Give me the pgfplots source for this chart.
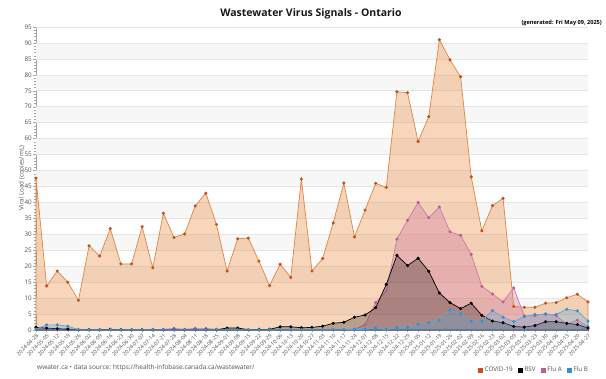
\documentclass[border=0pt]{standalone}
\usepackage{fontspec}
\setmainfont{Open Sans}
\usepackage{pgfplots}
\pgfplotsset{compat=1.18}
\definecolor{covidl}{HTML}{E3833F}
\definecolor{covidm}{HTML}{C4521B}
\definecolor{covidf}{HTML}{E8893C}
\definecolor{flual}{HTML}{C97AAA}
\definecolor{fluam}{HTML}{BD5C96}
\definecolor{fluaf}{HTML}{C8649A}
\definecolor{flubl}{HTML}{58A9DA}
\definecolor{flubm}{HTML}{3C8FC4}
\definecolor{flubf}{HTML}{50A0DC}
\definecolor{bandgray}{HTML}{F7F7F7}
\definecolor{gridc}{HTML}{E6E6E6}
\definecolor{txtc}{HTML}{505050}
\begin{document}
\begin{tikzpicture}
\useasboundingbox (-36pt,-49pt) rectangle (570pt,330pt);
\begin{axis}[
  anchor=south west, scale only axis,
  width=552pt, height=303pt,
  xmin=0, xmax=52, ymin=0, ymax=95,
  axis x line*=bottom, axis y line*=left,
  axis line style={color=gray!70, line width=0.5pt},
  xtick={0,...,52},
  xticklabels={2024-04-28,2024-05-05,2024-05-12,2024-05-19,2024-05-26,2024-06-02,2024-06-09,2024-06-16,2024-06-23,2024-06-30,2024-07-07,2024-07-14,2024-07-21,2024-07-28,2024-08-04,2024-08-11,2024-08-18,2024-08-25,2024-09-01,2024-09-08,2024-09-15,2024-09-22,2024-09-29,2024-10-06,2024-10-13,2024-10-20,2024-10-27,2024-11-03,2024-11-10,2024-11-17,2024-11-24,2024-12-01,2024-12-08,2024-12-15,2024-12-22,2024-12-29,2025-01-05,2025-01-12,2025-01-19,2025-01-26,2025-02-02,2025-02-09,2025-02-16,2025-02-23,2025-03-02,2025-03-09,2025-03-16,2025-03-23,2025-03-30,2025-04-06,2025-04-13,2025-04-20,2025-04-27},
  x tick label style={rotate=45, anchor=north east, font=\fontsize{5.4}{5.6}\selectfont, text=txtc, inner sep=0.6pt},
  ytick={0,5,...,95},
  minor y tick num=4,
  y tick label style={font=\fontsize{6.3}{7}\selectfont, text=txtc, inner sep=1.5pt},
  /pgf/number format/assume math mode=true,
  tick align=outside,
  major tick length=2.5pt, minor tick length=1.5pt,
  tick style={color=gray!70, line width=0.4pt},
  clip=false,
  legend style={at={(1.004,-0.132)}, anchor=east, draw=none, fill=none,
    legend columns=4, font=\fontsize{6.3}{7}\selectfont, text=txtc,
    /tikz/every even column/.append style={column sep=3pt},
    inner sep=0pt},
  legend cell align=left,
]
% background bands
\fill[bandgray] (axis cs:0,5) rectangle (axis cs:52,10);
\fill[bandgray] (axis cs:0,15) rectangle (axis cs:52,20);
\fill[bandgray] (axis cs:0,25) rectangle (axis cs:52,30);
\fill[bandgray] (axis cs:0,35) rectangle (axis cs:52,40);
\fill[bandgray] (axis cs:0,45) rectangle (axis cs:52,50);
\fill[bandgray] (axis cs:0,55) rectangle (axis cs:52,60);
\fill[bandgray] (axis cs:0,65) rectangle (axis cs:52,70);
\fill[bandgray] (axis cs:0,75) rectangle (axis cs:52,80);
\fill[bandgray] (axis cs:0,85) rectangle (axis cs:52,90);
\pgfplotsinvokeforeach{5,10,...,95}{\draw[gridc, line width=0.6pt] (axis cs:0,#1) -- (axis cs:52,#1);}

% COVID-19
\addplot[forget plot, color=covidl, line width=0.7pt, fill=covidf, fill opacity=0.35,
  mark=*, mark size=1.2pt, mark options={fill=covidm, draw=covidm, fill opacity=1}]
coordinates {
(0,47.6)(1,13.8)(2,18.5)(3,15.0)(4,9.3)(5,26.4)(6,23.2)(7,31.8)(8,20.7)(9,20.7)
(10,32.4)(11,19.5)(12,36.6)(13,29.0)(14,30.1)(15,38.9)(16,42.9)(17,33.1)(18,18.5)(19,28.6)
(20,28.8)(21,21.6)(22,13.9)(23,20.6)(24,16.5)(25,47.3)(26,18.5)(27,22.4)(28,33.6)(29,46.1)
(30,29.2)(31,37.6)(32,46.0)(33,44.7)(34,74.7)(35,74.4)(36,59.1)(37,66.9)(38,91.0)(39,84.7)
(40,79.4)(41,48.0)(42,31.1)(43,39.0)(44,41.3)(45,7.4)(46,7.1)(47,7.1)(48,8.4)(49,8.6)
(50,10.1)(51,11.2)(52,8.8)
} \closedcycle;

% Flu A
\addplot[forget plot, color=flual, line width=0.7pt, fill=fluaf, fill opacity=0.3,
  mark=*, mark size=1.2pt, mark options={fill=fluam, draw=fluam, fill opacity=1}]
coordinates {
(0,0.3)(1,0.4)(2,0.3)(3,0.2)(4,0.1)(5,0.1)(6,0.1)(7,0.2)(8,0.1)(9,0.1)
(10,0.1)(11,0.1)(12,0.2)(13,0.5)(14,0.2)(15,0.5)(16,0.5)(17,0.2)(18,0.1)(19,0.2)
(20,0.1)(21,0.1)(22,0.1)(23,0.2)(24,0.1)(25,0.1)(26,0.1)(27,0.1)(28,0.1)(29,0.1)
(30,0.2)(31,1.7)(32,8.6)(33,12.3)(34,28.5)(35,34.4)(36,40.0)(37,35.2)(38,38.6)(39,30.8)
(40,29.7)(41,23.7)(42,13.7)(43,11.3)(44,8.8)(45,13.2)(46,4.4)(47,4.5)(48,5.1)(49,4.5)
(50,1.8)(51,3.1)(52,1.0)
} \closedcycle;

% RSV
\addplot[forget plot, color=black, line width=0.7pt, fill=black, fill opacity=0.25,
  mark=*, mark size=1.2pt, mark options={fill=black, draw=black, fill opacity=1}]
coordinates {
(0,0.8)(1,0.6)(2,0.4)(3,0.3)(4,0.1)(5,0.1)(6,0.1)(7,0.2)(8,0.1)(9,0.1)
(10,0.1)(11,0.1)(12,0.1)(13,0.1)(14,0.1)(15,0.1)(16,0.1)(17,0.1)(18,0.6)(19,0.6)
(20,0.1)(21,0.2)(22,0.2)(23,1.0)(24,1.0)(25,0.7)(26,0.8)(27,1.2)(28,2.1)(29,2.4)
(30,4.0)(31,4.7)(32,7.0)(33,14.3)(34,23.4)(35,20.2)(36,22.5)(37,18.4)(38,11.6)(39,8.6)
(40,6.7)(41,8.4)(42,4.6)(43,2.8)(44,2.3)(45,1.1)(46,0.9)(47,1.4)(48,2.6)(49,2.6)
(50,2.1)(51,1.7)(52,0.6)
} \closedcycle;

% Flu B
\addplot[forget plot, color=flubl, line width=0.7pt, fill=flubf, fill opacity=0.3,
  mark=*, mark size=1.2pt, mark options={fill=flubm, draw=flubm, fill opacity=1}]
coordinates {
(0,0.3)(1,1.6)(2,1.6)(3,1.2)(4,0.1)(5,0.1)(6,0.1)(7,0.1)(8,0.1)(9,0.1)
(10,0.1)(11,0.1)(12,0.1)(13,0.1)(14,0.1)(15,0.1)(16,0.1)(17,0.1)(18,0.1)(19,0.1)
(20,0.1)(21,0.1)(22,0.1)(23,0.1)(24,0.1)(25,0.1)(26,0.1)(27,0.1)(28,0.1)(29,0.1)
(30,0.3)(31,0.3)(32,0.7)(33,0.2)(34,0.8)(35,0.8)(36,1.8)(37,2.3)(38,3.1)(39,6.3)
(40,5.1)(41,2.8)(42,2.8)(43,6.1)(44,4.0)(45,2.6)(46,4.2)(47,4.9)(48,4.9)(49,4.9)
(50,6.5)(51,6.0)(52,2.8)
} \closedcycle;

\addlegendimage{legend image code/.code={\fill[covidm] (0pt,-2.2pt) rectangle (4.4pt,2.2pt);}}
\addlegendentry{COVID-19}
\addlegendimage{legend image code/.code={\fill[black] (0pt,-2.2pt) rectangle (4.4pt,2.2pt);}}
\addlegendentry{RSV}
\addlegendimage{legend image code/.code={\fill[fluam] (0pt,-2.2pt) rectangle (4.4pt,2.2pt);}}
\addlegendentry{Flu A}
\addlegendimage{legend image code/.code={\fill[flubm] (0pt,-2.2pt) rectangle (4.4pt,2.2pt);}}
\addlegendentry{Flu B}
\end{axis}
\node[font=\bfseries\fontsize{10.5}{12}\selectfont, text=black!90] at (275pt,316pt) {Wastewater Virus Signals - Ontario};
\node[font=\bfseries\fontsize{5.6}{7}\selectfont, anchor=east, inner sep=0pt] at (566pt,307pt) {(generated: Fri May 09, 2025)};
\node[font=\fontsize{6.3}{7}\selectfont, rotate=90, text=txtc] at (-14pt,152pt) {Viral Load (copies/mL)};
\node[font=\fontsize{6.5}{7}\selectfont, anchor=west, text=txtc, inner sep=0pt] at (1pt,-38pt) {wwater.ca • data source: https://health-infobase.canada.ca/wastewater/};
\end{tikzpicture}
\end{document}
